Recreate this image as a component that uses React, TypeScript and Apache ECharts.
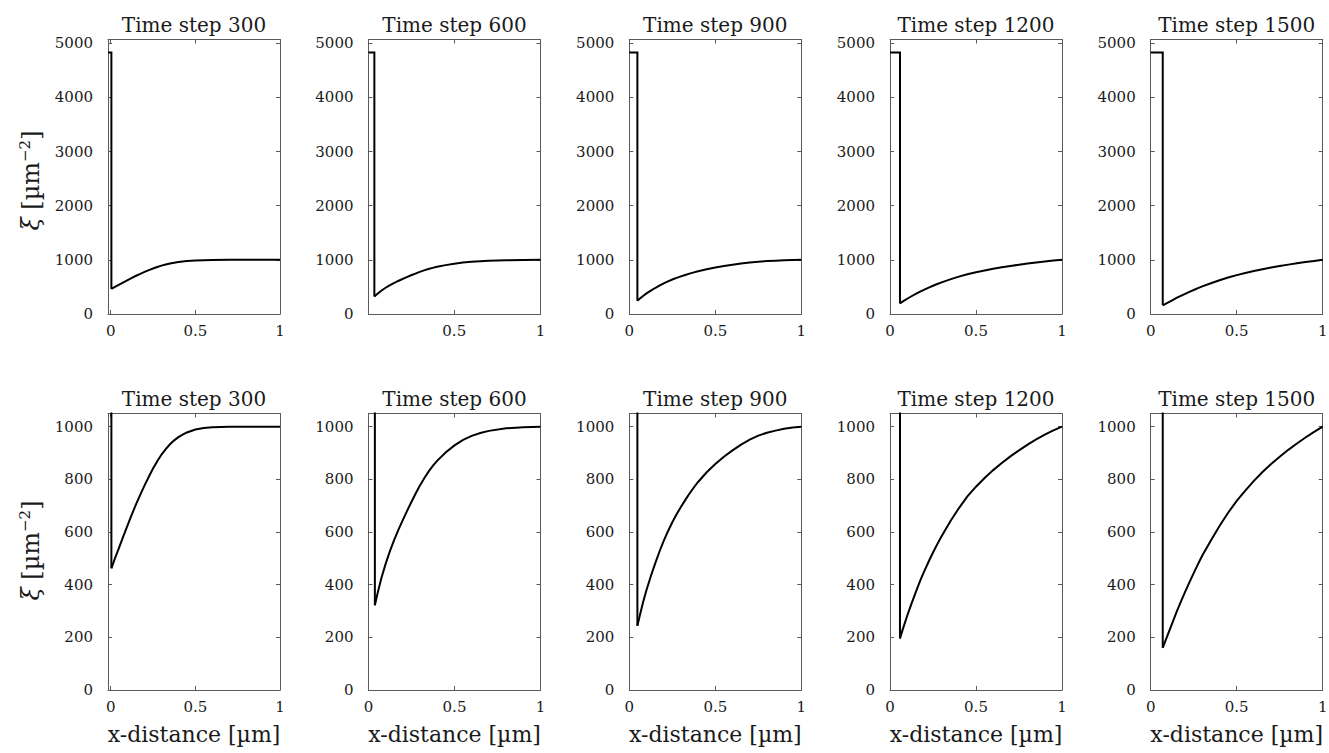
import React, { useEffect, useRef } from "react";
import * as echarts from "echarts";

// ---------------- data ----------------
const TIME_STEPS = [300, 600, 900, 1200, 1500];
const PLATEAU = 4830;
const DROP_X = [0.004, 0.037, 0.047, 0.058, 0.07];

const CURVE_300 = [
  [0.004, 462], [0.025, 500], [0.05, 542], [0.075, 584], [0.1, 626], [0.125, 667],
  [0.15, 706], [0.175, 742], [0.2, 777], [0.225, 810], [0.25, 841], [0.275, 869],
  [0.3, 894], [0.325, 915], [0.35, 933], [0.375, 948], [0.4, 960], [0.425, 970],
  [0.45, 978], [0.5, 989], [0.55, 995], [0.6, 998], [0.7, 1000], [0.8, 1000], [1.0, 1000],
];
const CURVE_600 = [
  [0.037, 322], [0.05, 360], [0.075, 425], [0.1, 480], [0.125, 528], [0.15, 571],
  [0.175, 610], [0.2, 646], [0.225, 681], [0.25, 715], [0.275, 747], [0.3, 778],
  [0.325, 805], [0.35, 830], [0.375, 852], [0.4, 871], [0.45, 903], [0.5, 929],
  [0.55, 950], [0.6, 965], [0.65, 976], [0.7, 984], [0.8, 994], [0.9, 998], [1.0, 1000],
];
const CURVE_900 = [
  [0.047, 244], [0.06, 280], [0.08, 333], [0.1, 380], [0.125, 432], [0.15, 480],
  [0.175, 525], [0.2, 566], [0.225, 603], [0.25, 637], [0.275, 667], [0.3, 695],
  [0.325, 721], [0.35, 746], [0.375, 769], [0.4, 790], [0.45, 827], [0.5, 858],
  [0.55, 886], [0.6, 910], [0.65, 932], [0.7, 951], [0.75, 966], [0.8, 977],
  [0.85, 985], [0.9, 992], [0.95, 997], [1.0, 1000],
];
const CURVE_1200 = [
  [0.058, 196], [0.075, 232], [0.1, 282], [0.125, 328], [0.15, 372], [0.175, 414],
  [0.2, 452], [0.225, 488], [0.25, 522], [0.275, 554], [0.3, 584], [0.35, 640],
  [0.4, 690], [0.45, 735], [0.5, 772], [0.55, 805], [0.6, 835], [0.65, 862],
  [0.7, 887], [0.75, 910], [0.8, 932], [0.85, 952], [0.9, 970], [0.95, 986], [1.0, 1000],
];
const CURVE_1500 = [
  [0.07, 160], [0.1, 211], [0.125, 253], [0.15, 296], [0.175, 335], [0.2, 373],
  [0.225, 409], [0.25, 444], [0.275, 478], [0.3, 511], [0.35, 568], [0.4, 623],
  [0.45, 673], [0.5, 718], [0.55, 757], [0.6, 794], [0.65, 828], [0.7, 858],
  [0.75, 886], [0.8, 912], [0.85, 936], [0.9, 959], [0.95, 980], [1.0, 1000],
];
const CURVES = [CURVE_300, CURVE_600, CURVE_900, CURVE_1200, CURVE_1500];

const X_TICKS = [0, 0.5, 1];
const X_MAX = 1;
const TOP_X_MIN = [-0.016, 0.003, 0, 0, 0];
const BOTTOM_X_MIN = [-0.016, 0, 0, 0, 0];
const TOP_Y_TICKS = [0, 1000, 2000, 3000, 4000, 5000];
const BOTTOM_Y_TICKS = [0, 200, 400, 600, 800, 1000];
const TOP_Y_MAX = 5070;
const BOTTOM_Y_MAX = 1050;

const TITLE_PREFIX = "Time step ";
const X_NAME = "x-distance [µm]";

// ---------------- layout ----------------
const W = 1329;
const H = 753;
const PANEL_LEFT = [108, 368.5, 629.3, 890, 1150.7];
const PANEL_W = 172;
const ROW_TOP = [39.5, 413.5];
const ROW_H = [274.5, 276.5];
const FONT = "'DejaVu Serif', serif";
const AXIS_COLOR = "#5a5a5a";
const TEXT_COLOR = "#1a1a1a";
const TICK_FONT_SIZE = 15;

function buildOption() {
  const grid: any[] = [];
  const xAxis: any[] = [];
  const yAxis: any[] = [];
  const series: any[] = [];
  const graphic: any[] = [];

  for (let row = 0; row < 2; row++) {
    for (let c = 0; c < 5; c++) {
      const g = row * 5 + c;
      grid.push({
        left: PANEL_LEFT[c],
        top: ROW_TOP[row],
        width: PANEL_W,
        height: ROW_H[row],
        containLabel: false,
        outerBoundsMode: "none",
      });
      const xMin = row === 0 ? TOP_X_MIN[c] : BOTTOM_X_MIN[c];
      const yMax = row === 0 ? TOP_Y_MAX : BOTTOM_Y_MAX;
      const yTicks = row === 0 ? TOP_Y_TICKS : BOTTOM_Y_TICKS;
      const lineStyle = { color: AXIS_COLOR, width: 1 };
      const baseX = {
        type: "value",
        gridIndex: g,
        min: xMin,
        max: X_MAX,
        splitLine: { show: false },
        axisLine: { show: true, onZero: false, lineStyle },
        axisTick: { show: true, inside: true, length: 4, lineStyle, customValues: X_TICKS },
      };
      xAxis.push({
        ...baseX,
        position: "bottom",
        axisLabel: {
          show: true,
          customValues: X_TICKS,
          formatter: (v: number) => String(v),
          fontFamily: FONT,
          fontSize: TICK_FONT_SIZE,
          color: TEXT_COLOR,
          margin: 9,
        },
        ...(row === 1
          ? {
              name: X_NAME,
              nameLocation: "middle",
              nameGap: 33,
              nameTextStyle: { fontFamily: FONT, fontSize: 22, color: TEXT_COLOR },
            }
          : {}),
      });
      xAxis.push({ ...baseX, position: "top", axisLabel: { show: false } });
      const baseY = {
        type: "value",
        gridIndex: g,
        min: 0,
        max: yMax,
        splitLine: { show: false },
        axisLine: { show: true, onZero: false, lineStyle },
        axisTick: { show: true, inside: true, length: 4, lineStyle, customValues: yTicks },
      };
      yAxis.push({
        ...baseY,
        position: "left",
        axisLabel: {
          show: true,
          customValues: yTicks,
          formatter: (v: number) => String(v),
          fontFamily: FONT,
          fontSize: TICK_FONT_SIZE,
          color: TEXT_COLOR,
          margin: 15,
        },
      });
      yAxis.push({ ...baseY, position: "right", axisLabel: { show: false } });

      const curve = CURVES[c];
      const common = {
        type: "line",
        xAxisIndex: 2 * g,
        yAxisIndex: 2 * g,
        symbol: "none",
        showSymbol: false,
        silent: true,
        clip: true,
        lineStyle: { color: "#000", width: 2, join: "miter", cap: "butt" },
      };
      series.push({
        ...common,
        data: [
          [xMin, PLATEAU],
          [DROP_X[c], PLATEAU],
          [DROP_X[c], curve[0][1]],
        ],
      });
      series.push({
        ...common,
        data: curve,
      });

      graphic.push({
        type: "text",
        x: PANEL_LEFT[c] + PANEL_W / 2,
        y: row === 0 ? 25 : 399,
        style: {
          text: TITLE_PREFIX + TIME_STEPS[c],
          fontFamily: FONT,
          fontSize: 20,
          fill: TEXT_COLOR,
          align: "center",
          verticalAlign: "middle",
        },
      });
    }
    graphic.push({
      type: "text",
      x: 31,
      y: row === 0 ? 180.5 : 550.5,
      rotation: Math.PI / 2,
      style: {
        text: "{i|ξ} [µm{s|−2}]",
        fontFamily: FONT,
        fontSize: 24,
        fill: TEXT_COLOR,
        align: "center",
        verticalAlign: "middle",
        rich: {
          i: { fontFamily: FONT, fontStyle: "italic", fontSize: 24, lineHeight: 28 },
          s: { fontFamily: FONT, fontSize: 15, verticalAlign: "top", lineHeight: 28 },
        },
      },
    });
  }

  return {
    animation: false,
    backgroundColor: "#ffffff",
    grid,
    xAxis,
    yAxis,
    series,
    graphic,
  };
}

export default function App() {
  const ref = useRef<HTMLDivElement>(null);
  useEffect(() => {
    document.body.style.margin = "0";
    if (!ref.current) return;
    const chart = echarts.init(ref.current, undefined, { renderer: "svg", width: W, height: H });
    chart.setOption(buildOption() as any);
    return () => chart.dispose();
  }, []);
  return <div ref={ref} style={{ width: W, height: H }} />;
}
